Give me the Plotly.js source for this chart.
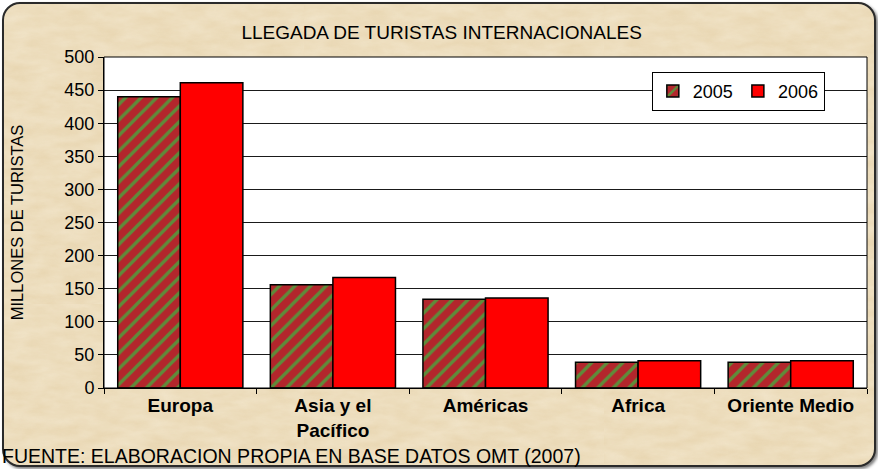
<!DOCTYPE html>
<html>
<head>
<meta charset="utf-8">
<script src="https://cdn.plot.ly/plotly-3.0.1.min.js"></script>
<style>
  html, body { margin:0; padding:0; width:878px; height:469px; overflow:hidden; background:#ffffff; }
  #frame {
    position:absolute; left:2px; top:2px; width:870px; height:461px;
    border:2px solid #2a2a2a; border-radius:18px;
    background-color:#E9D7B3;
    background-image:url("data:image/svg+xml;utf8,<svg xmlns='http://www.w3.org/2000/svg' width='300' height='300'><filter id='n'><feTurbulence type='fractalNoise' baseFrequency='0.035 0.09' numOctaves='4' seed='3'/><feColorMatrix values='0 0 0 0 0.96  0 0 0 0 0.90  0 0 0 0 0.76  0 0 0 0.6 -0.1'/></filter><rect width='300' height='300' filter='url(%23n)'/></svg>");
    box-shadow: 2px 2px 3px rgba(0,0,0,0.5);
  }
  #chart { position:absolute; left:0; top:0; width:878px; height:469px; }
</style>
</head>
<body>
<div id="frame"></div>
<div id="chart"></div>
<script>
const categories = ["Europa", "Asia y el<br>Pacífico", "Américas", "Africa", "Oriente Medio"];
const values2005 = [440, 156, 134, 39, 39];
const values2006 = [461, 167, 136, 41, 41];
const seriesNames = ["2005", "2006"];
const yTicks = [0, 50, 100, 150, 200, 250, 300, 350, 400, 450, 500];

const traces = [
  {
    type: "bar", name: seriesNames[0], x: categories, y: values2005,
    marker: {
      color: "#B3262C",
      line: { color: "#000000", width: 1.5 },
      pattern: { shape: "/", bgcolor: "#B3262C", fgcolor: "#5E8C3A", size: 11, solidity: 0.3, fillmode: "replace" }
    },
    hoverinfo: "none"
  },
  {
    type: "bar", name: seriesNames[1], x: categories, y: values2006,
    marker: { color: "#FF0000", line: { color: "#000000", width: 1.5 } },
    hoverinfo: "none"
  }
];

const layout = {
  width: 878, height: 469,
  margin: { l: 104, r: 11, t: 57, b: 81 },
  paper_bgcolor: "rgba(0,0,0,0)",
  plot_bgcolor: "#ffffff",
  font: { family: "Arial, 'Liberation Sans', sans-serif", size: 18, color: "#000000" },
  title: {
    text: "LLEGADA DE TURISTAS INTERNACIONALES",
    x: 0.503, xanchor: "center", y: 0.932, yanchor: "middle",
    font: { size: 19, color: "#000000" }
  },
  barmode: "group",
  bargap: 0.18,
  bargroupgap: 0,
  showlegend: true,
  legend: {
    orientation: "h",
    x: 0.718, xanchor: "left", y: 0.955, yanchor: "top",
    bgcolor: "#ffffff", bordercolor: "#000000", borderwidth: 1,
    font: { size: 18 },
    traceorder: "normal",
    itemwidth: 30
  },
  xaxis: {
    type: "category",
    tickson: "boundaries",
    ticks: "outside", ticklen: 5, tickcolor: "#000000",
    showline: true, linecolor: "#000000", linewidth: 1,
    showgrid: false,
    tickfont: { size: 19, weight: "bold" },
    fixedrange: true
  },
  yaxis: {
    range: [0, 500],
    tickvals: yTicks,
    ticks: "outside", ticklen: 5, tickcolor: "#000000",
    showline: true, linecolor: "#000000", linewidth: 1,
    showgrid: true, gridcolor: "#1a1a1a", gridwidth: 1,
    zeroline: false,
    tickfont: { size: 18 },
    title: { text: "MILLONES DE TURISTAS", font: { size: 16.5 }, standoff: 36 },
    fixedrange: true
  },
  shapes: [
    { type: "rect", xref: "paper", yref: "paper", x0: 0, x1: 1, y0: 0, y1: 1,
      line: { color: "#000000", width: 1 }, fillcolor: "rgba(0,0,0,0)" }
  ],
  annotations: [
    { text: "FUENTE: ELABORACION PROPIA EN BASE DATOS OMT (2007)",
      xref: "paper", yref: "paper", x: -0.136, y: -0.205, xanchor: "left", yanchor: "middle",
      showarrow: false, font: { size: 19.5, color: "#000000" } }
  ]
};

Plotly.newPlot("chart", traces, layout, { staticPlot: true, displayModeBar: false });
</script>
</body>
</html>
